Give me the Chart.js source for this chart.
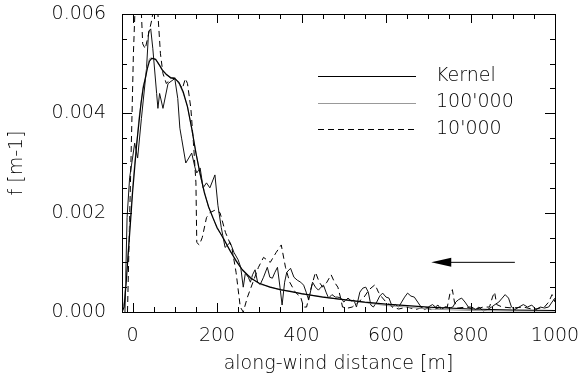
<!DOCTYPE html>
<html>
<head>
<meta charset="utf-8">
<script src="https://cdn.jsdelivr.net/npm/chart.js@4.4.1/dist/chart.umd.min.js"></script>
<style>
  html, body { margin: 0; padding: 0; background: #fff; }
</style>
</head>
<body>
<canvas id="myChart" width="584" height="379"></canvas>
<script>
// tick labels
const xTicks = [0, 200, 400, 600, 800, 1000];
const yTicks = [0, 0.002, 0.004, 0.006];

// Kernel (smooth)
const kernelX = [-25,-20,-15,-10,-5,0,5,10,15,20,25,30,35,40,45,50,55,60,65,70,80,90,100,110,120,130,140,150,160,170,180,190,200,215,230,245,260,280,300,325,350,375,400,450,500,550,600,650,700,800,900,1000];
const kernelY = [0,0.0001,0.0006,0.0012,0.0018,0.0024,0.0029,0.0034,0.0038,0.0042,0.0045,0.0047,0.0049,0.00505,0.0051,0.0051,0.00508,0.00502,0.00495,0.00488,0.00478,0.00472,0.0047,0.00462,0.00443,0.00413,0.0037,0.0032,0.00278,0.0024,0.00212,0.0019,0.0017,0.00148,0.00125,0.00103,0.00085,0.00068,0.00058,0.0005,0.00045,0.00041,0.00037,0.0003,0.00025,0.0002,0.00016,0.00013,0.0001,0.00006,0.00004,0.00003];

// 100'000 (grey, close to kernel)
const run100kX = [-25,-20,-15,-10,-5,0,5,10,15,20,25,30,35,40,45,50,55,60,65,70,80,90,100,110,120,130,140,150,160,170,180,190,200,215,230,245,260,280,300,325,350,375,400,450,500,550,600,650,700,800,900,1000];
const run100kY = [0,0.0002,0.0007,0.0013,0.0019,0.0025,0.003,0.0034,0.0039,0.0042,0.00455,0.0047,0.00495,0.0051,0.00512,0.0051,0.0051,0.005,0.00496,0.00486,0.0048,0.0047,0.00472,0.0046,0.0044,0.00415,0.00368,0.00322,0.00275,0.00243,0.0021,0.00192,0.00168,0.0015,0.00123,0.00105,0.00083,0.0007,0.00056,0.00051,0.00044,0.00042,0.00036,0.00031,0.00024,0.00019,0.00013,0.0001,0.00006,0.00003,0.00002,0.00002];

// 10'000 (dashed)
const run10kX = [-12,-5,2,8,18,24,30,38,46,54,60,66,72,80,90,100,110,118,125,130,138,145,150,152,158,165,175,183,195,207,220,235,245,255,262,272,285,298,310,318,326,340,352,362,372,385,398,405,412,420,433,442,450,460,470,478,486,492,497,510,520,535,548,560,574,582,590,600,615,630,650,670,690,710,730,745,752,757,762,770,790,810,830,845,852,857,862,875,900,925,950,975,985,993,1000];
const run10kY = [0,0.0026,0.0052,0.0066,0.0066,0.0054,0.0053,0.0056,0.0059,0.0064,0.006,0.0052,0.0048,0.0046,0.0047,0.00472,0.0046,0.0045,0.0047,0.0046,0.0041,0.0033,0.0026,0.0014,0.00135,0.0015,0.0019,0.002,0.00205,0.002,0.0016,0.0013,0.0008,0.0001,0,0.0003,0.0006,0.0009,0.0011,0.00105,0.001,0.0012,0.00135,0.0009,0.0006,0.0004,0.0003,0.0001,0.0001,0.0004,0.0008,0.0006,0.0005,0.0006,0.00075,0.0006,0.0005,0.0003,0.0001,0.00008,0.0001,0.0002,0.0003,0.00045,0.00055,0.0004,0.0003,0.0002,0.0001,0.00006,0.0001,0.00005,0.0001,0.00004,0.0001,0.0001,0.0004,0.00045,0.0002,0.00008,0.0001,0.00005,0.0001,0.0001,0.0003,0.0004,0.00015,0.0001,0.00008,0.0001,0.00005,0.0001,0.0002,0.00035,0.0002];

// jagged solid run (no legend entry)
const run1kX = [-18,-13,-7,0,5,12,21,33,38,43,48,57,60,64,72,84,100,107,112,116,126,133,140,148,152,160,167,175,183,195,202,210,219,231,240,250,256,262,267,274,279,284,290,296,302,310,319,325,331,337,343,349,354,360,365,374,382,390,398,405,411,417,426,433,440,446,452,458,464,472,480,486,493,500,510,518,524,530,538,545,552,558,564,570,578,585,592,600,607,615,622,630,637,644,651,659,667,675,683,692,700,710,717,723,730,740,750,758,765,772,779,787,795,803,812,820,830,840,850,858,867,875,882,890,897,905,915,925,935,945,955,965,975,985,993,1000];
const run1kY = [0,0.0019,0.0027,0.0031,0.0034,0.0031,0.0039,0.0049,0.00565,0.0057,0.0053,0.0044,0.0041,0.0044,0.0041,0.0046,0.0047,0.0043,0.0037,0.0035,0.003,0.0031,0.0032,0.0029,0.0028,0.0029,0.0025,0.0026,0.0025,0.00276,0.00215,0.0017,0.0013,0.0014,0.0012,0.00105,0.0009,0.0005,0.00078,0.0007,0.0006,0.00075,0.00085,0.0006,0.00055,0.0007,0.0009,0.0007,0.00068,0.0008,0.0009,0.0005,0.00014,0.0006,0.0008,0.00088,0.0007,0.00064,0.0006,0.00054,0.0004,0.00024,0.0006,0.0005,0.00044,0.0005,0.00054,0.0004,0.00028,0.00035,0.0003,0.0003,0.00028,0.0002,0.00028,0.00022,0.00024,0.0001,0.0004,0.00048,0.0005,0.0004,0.00014,0.0001,0.0002,0.00032,0.00038,0.0003,0.00028,0.0001,0.00015,0.0001,0.0002,0.0003,0.00038,0.00032,0.0003,0.0002,0.0001,0.00005,0.0001,0.00015,0.0001,0.00014,0.00005,0.0001,0.00008,0.0001,0.0002,0.00025,0.00028,0.0002,0.0001,0.0001,0.00005,0.0001,0.00002,0.00005,0.0001,0.00015,0.0002,0.00028,0.00035,0.00028,0.0001,0.00005,0.0001,0.00015,0.0001,0.00014,0.00005,0.0001,0.00008,0.0001,0.0002,0.00028];

const legendLabels = ["Kernel", "100'000", "10'000"];

const FONT = "'DejaVu Sans', sans-serif";

function pts(xs, ys) {
    return xs.map((x, i) => ({ x: x, y: ys[i] }));
}

// frame + inward ticks on all four sides, like the IDL box
const framePlugin = {
    id: 'frame',
    afterDatasetsDraw(chart) {
        const ctx = chart.ctx;
        const a = chart.chartArea;
        const xs = chart.scales.x, ys = chart.scales.y;
        ctx.save();
        ctx.strokeStyle = '#000';
        ctx.lineWidth = 1;
        ctx.strokeRect(a.left + 0.5, a.top + 0.5, a.right - a.left, a.bottom - a.top);
        ctx.beginPath();
        for (let v = 0; v <= 1000; v += 50) {
            const px = Math.round(xs.getPixelForValue(v)) + 0.5;
            const len = (v % 200 === 0) ? 9 : 5;
            ctx.moveTo(px, a.bottom); ctx.lineTo(px, a.bottom - len);
            ctx.moveTo(px, a.top); ctx.lineTo(px, a.top + len);
        }
        for (let k = 0; k <= 12; k++) {
            const v = k * 0.0005;
            const py = Math.round(ys.getPixelForValue(v)) + 0.5;
            const len = (k % 4 === 0) ? 10 : 5;
            ctx.moveTo(a.left, py); ctx.lineTo(a.left + len, py);
            ctx.moveTo(a.right, py); ctx.lineTo(a.right - len, py);
        }
        ctx.stroke();

        // arrow pointing upwind
        const ay = ys.getPixelForValue(0.001);
        const x0 = xs.getPixelForValue(905), x1 = xs.getPixelForValue(707);
        ctx.beginPath();
        ctx.moveTo(x0, ay); ctx.lineTo(x1 + 18, ay);
        ctx.stroke();
        ctx.fillStyle = '#000';
        ctx.beginPath();
        ctx.moveTo(x1, ay);
        ctx.lineTo(x1 + 20, ay - 4.5);
        ctx.lineTo(x1 + 20, ay + 4.5);
        ctx.closePath();
        ctx.fill();
        ctx.restore();
    },
    afterDraw(chart) {
        const ctx = chart.ctx;
        const ds = chart.data.datasets;
        ctx.save();
        ctx.font = '300 19px ' + FONT;
        ctx.textBaseline = 'middle';
        ctx.fillStyle = '#000';
        legendLabels.forEach((lab, i) => {
            const y = 76 + i * 26.5;
            ctx.strokeStyle = ds[i].borderColor;
            ctx.lineWidth = 1;
            ctx.setLineDash(ds[i].borderDash || []);
            ctx.beginPath();
            ctx.moveTo(318, Math.round(y) + 0.5);
            ctx.lineTo(416, Math.round(y) + 0.5);
            ctx.stroke();
            ctx.fillText(lab, 436, y);
        });
        ctx.restore();
    }
};

new Chart(document.getElementById('myChart'), {
    type: 'line',
    data: {
        datasets: [{
            label: legendLabels[0],
            data: pts(kernelX, kernelY),
            borderColor: '#000',
            borderWidth: 1.2,
        }, {
            label: legendLabels[1],
            data: pts(run100kX, run100kY),
            borderColor: '#999',
            borderWidth: 1,
        }, {
            label: legendLabels[2],
            data: pts(run10kX, run10kY),
            borderColor: '#000',
            borderWidth: 1,
            borderDash: [6, 4],
        }, {
            label: '',
            data: pts(run1kX, run1kY),
            borderColor: '#111',
            borderWidth: 1,
        }]
    },
    options: {
        responsive: false,
        animation: false,
        devicePixelRatio: 1,
        elements: { point: { radius: 0 }, line: { tension: 0 } },
        layout: { padding: { left: 0, right: 29, top: 14, bottom: 0 } },
        plugins: { legend: { display: false }, tooltip: { enabled: false } },
        scales: {
            x: {
                type: 'linear',
                min: -25,
                max: 1000,
                afterBuildTicks: s => { s.ticks = xTicks.map(v => ({ value: v })); },
                afterFit: s => { s.height = 67; s.paddingLeft = 0; s.paddingRight = 0; },
                grid: { display: false, drawTicks: false },
                border: { display: false },
                ticks: {
                    padding: 13,
                    color: '#000',
                    font: { family: FONT, size: 19, weight: 300 },
                    maxRotation: 0,
                    callback: v => String(v),
                },
                title: {
                    display: true,
                    text: 'along-wind distance [m]',
                    color: '#000',
                    font: { family: FONT, size: 19, weight: 300 },
                    padding: { top: 0, bottom: 4 },
                },
            },
            y: {
                type: 'linear',
                min: 0,
                max: 0.006,
                afterBuildTicks: s => { s.ticks = yTicks.map(v => ({ value: v })); },
                afterFit: s => { s.width = 122; s.paddingTop = 0; s.paddingBottom = 0; },
                grid: { display: false, drawTicks: false },
                border: { display: false },
                ticks: {
                    padding: 16,
                    color: '#000',
                    font: { family: FONT, size: 19, weight: 300 },
                    callback: v => v.toFixed(3),
                },
                title: {
                    display: true,
                    text: 'f [m-1]',
                    color: '#000',
                    font: { family: FONT, size: 19, weight: 300 },
                    padding: { top: 6, bottom: 0 },
                },
            },
        },
    },
    plugins: [framePlugin],
});
</script>
</body>
</html>
